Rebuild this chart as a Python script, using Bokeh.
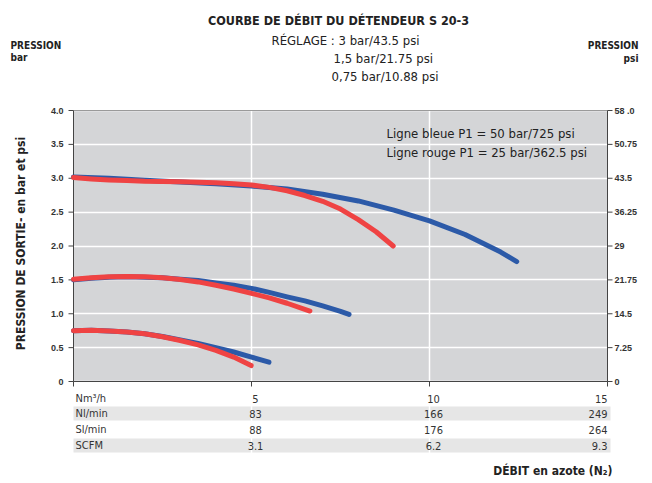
import math
from bokeh.plotting import figure
from bokeh.models import Range1d, FixedTicker
from bokeh.core.properties import value
from bokeh.embed import file_html
from bokeh.resources import INLINE

# ---------------- data ----------------
blue_3_x = [0, 1, 2, 3, 4, 5, 6, 7, 8, 9, 10, 11, 12, 12.45]
blue_3_y = [3.02, 3.00, 2.97, 2.945, 2.92, 2.885, 2.84, 2.765, 2.665, 2.53, 2.37, 2.17, 1.91, 1.77]
red_3_x = [0, 0.5, 1, 1.5, 2, 3, 4, 4.5, 5, 5.5, 6, 6.5, 7, 7.5, 8, 8.5, 8.98]
red_3_y = [3.01, 2.99, 2.975, 2.965, 2.955, 2.95, 2.935, 2.92, 2.90, 2.865, 2.815, 2.745, 2.66,
           2.545, 2.39, 2.21, 2.0]

blue_15_x = [0, 0.5, 1, 1.5, 2, 2.5, 3, 3.5, 4, 4.5, 5, 5.5, 6, 6.5, 7, 7.5, 7.74]
blue_15_y = [1.50, 1.525, 1.54, 1.545, 1.54, 1.53, 1.51, 1.49, 1.455, 1.42, 1.375, 1.315, 1.25,
             1.19, 1.115, 1.035, 0.99]
red_15_x = [0, 0.5, 1, 1.5, 2, 2.5, 3, 3.5, 4, 4.5, 5, 5.5, 6, 6.64]
red_15_y = [1.51, 1.53, 1.545, 1.55, 1.545, 1.53, 1.505, 1.47, 1.42, 1.365, 1.30, 1.235, 1.155, 1.04]

blue_075_x = [0, 0.5, 1, 1.5, 2, 2.5, 3, 3.5, 4, 4.5, 5, 5.49]
blue_075_y = [0.75, 0.755, 0.745, 0.73, 0.705, 0.665, 0.615, 0.56, 0.50, 0.435, 0.36, 0.285]
red_075_x = [0, 0.5, 1, 1.5, 2, 2.5, 3, 3.5, 4, 4.5, 4.99]
red_075_y = [0.75, 0.755, 0.745, 0.73, 0.705, 0.66, 0.605, 0.54, 0.46, 0.36, 0.235]

bar_ticks = [0, 0.5, 1, 1.5, 2, 2.5, 3, 3.5, 4]
bar_labels = ["0", "0.5", "1.0", "1.5", "2.0", "2.5", "3.0", "3.5", "4.0"]
psi_labels = ["0", "7.25", "14.5", "21.75", "29", "36.25", "43.5", "50.75", "58 .0"]
x_ticks = [0, 5, 10, 15]
x_grid = [5, 10]
x_min, x_max = 0, 15
y_min, y_max = 0, 4

row_names = ["Nm\u00b3/h", "Nl/min", "Sl/min", "SCFM"]
row_values = [["5", "10", "15"],
              ["83", "166", "249"],
              ["88", "176", "264"],
              ["3.1", "6.2", "9.3"]]
col_x = [5, 10, 15]

title = "COURBE DE D\u00c9BIT DU D\u00c9TENDEUR S 20-3"
setting_lines = ["R\u00c9GLAGE : 3 bar/43.5 psi", "1,5 bar/21.75 psi", "0,75 bar/10.88 psi"]
legend_lines = ["Ligne bleue P1 = 50 bar/725 psi", "Ligne rouge P1 = 25 bar/362.5 psi"]
y_title = "PRESSION DE SORTIE- en bar et psi"
x_title = "D\u00c9BIT en azote (N\u2082)"

NARROW = "'DejaVu Sans Condensed', Lato"
ARIAL = "Liberation Sans"
BLUE = "#2c5aa8"
RED = "#ef4343"
TXT = "#222222"
AX = "#444444"

# layout helpers: canvas pixel -> data units (plot area spans 73..607 x 110..381 px)
L, R, T, B = 73, 607, 110, 381
XPX = (R - L) / (x_max - x_min)
YPX = (B - T) / (y_max - y_min)


def dx(px):
    return x_min + (px - L) / XPX


def dy(py):
    return y_min + (B - py) / YPX


W, H = 652, 483
p = figure(width=W, height=H, x_range=Range1d(dx(0), dx(W)), y_range=Range1d(dy(H), dy(0)),
           output_backend="svg", toolbar_location=None,
           min_border_left=0, min_border_right=0, min_border_top=0, min_border_bottom=0,
           background_fill_color="white", outline_line_color=None)
p.axis.visible = False

# plot area background
p.quad(left=[x_min], right=[x_max], bottom=[y_min], top=[y_max], fill_color="#d4d5d7",
       line_color=None, level="image")

p.ygrid.ticker = FixedTicker(ticks=bar_ticks)
p.ygrid.bounds = (x_min, x_max)
p.ygrid.grid_line_color = "white"
p.ygrid.grid_line_width = 1.5
p.xgrid.ticker = FixedTicker(ticks=x_grid)
p.xgrid.bounds = (y_min, y_max)
p.xgrid.grid_line_color = "white"
p.xgrid.grid_line_width = 1.5

# frame lines (top grey, axes dark)
p.segment(x0=[x_min], y0=[y_max], x1=[x_max], y1=[y_max], line_color="#9a9a9a", line_width=1)
p.segment(x0=[x_min, x_max, x_min], y0=[y_min, y_min, y_min],
          x1=[x_min, x_max, x_max], y1=[y_max, y_max, y_min], line_color=AX, line_width=1)

# ticks
n = len(bar_ticks)
p.segment(x0=[x_min] * n, y0=bar_ticks, x1=[x_min - 5 / XPX] * n, y1=bar_ticks,
          line_color=AX, line_width=1)
p.segment(x0=[x_max] * n, y0=bar_ticks, x1=[x_max + 5 / XPX] * n, y1=bar_ticks,
          line_color=AX, line_width=1)
p.segment(x0=x_ticks, y0=[y_min] * len(x_ticks), x1=x_ticks, y1=[y_min - 5 / YPX] * len(x_ticks),
          line_color=AX, line_width=1)

# tick labels
p.text(x=[x_min] * n, y=bar_ticks, text=bar_labels, x_offset=-10, text_align="right",
       text_baseline="middle", text_font=value(ARIAL), text_font_style="bold",
       text_font_size="9px", text_color="#333333")
p.text(x=[x_max] * n, y=bar_ticks, text=psi_labels, x_offset=7, text_align="left",
       text_baseline="middle", text_font=value(ARIAL), text_font_style="bold",
       text_font_size="9px", text_color="#333333")

# y axis title
p.text(x=[dx(20)], y=[dy(243)], text=[y_title], angle=math.pi / 2, text_align="center",
       text_baseline="middle", text_font=value(NARROW), text_font_style="bold",
       text_font_size="12px", text_color=TXT)

# curves
for xs, ys, c in [(blue_3_x, blue_3_y, BLUE), (red_3_x, red_3_y, RED),
                  (blue_15_x, blue_15_y, BLUE), (red_15_x, red_15_y, RED),
                  (blue_075_x, blue_075_y, BLUE), (red_075_x, red_075_y, RED)]:
    p.line(xs, ys, line_color=c, line_width=5, line_cap="round", line_join="round")

p.text(x=[dx(386)] * 2, y=[dy(133), dy(152)], text=legend_lines, text_font=value(NARROW),
       text_font_size="13px", text_align="left", text_baseline="middle", text_color=TXT)

# ---------------- header ----------------
p.text(x=[dx(338)], y=[dy(20)], text=[title], text_font=value(NARROW), text_font_style="bold",
       text_font_size="12.5px", text_align="center", text_baseline="middle", text_color=TXT)
p.text(x=[dx(271), dx(333), dx(331)], y=[dy(40), dy(58), dy(76)], text=setting_lines,
       text_font=value(NARROW), text_font_size="13px", text_align="left",
       text_baseline="middle", text_color=TXT)
p.text(x=[dx(10), dx(10)], y=[dy(45), dy(57)], text=["PRESSION", "bar"], text_font=value(NARROW),
       text_font_style="bold", text_font_size="10px", text_align="left",
       text_baseline="middle", text_color=TXT)
p.text(x=[dx(638), dx(638)], y=[dy(45), dy(58)], text=["PRESSION", "psi"], text_font=value(NARROW),
       text_font_style="bold", text_font_size="10px", text_align="right",
       text_baseline="middle", text_color=TXT)

# ---------------- table ----------------
row_y = [dy(398), dy(413), dy(429), dy(445)]
band_rows = [1, 3]
p.quad(left=[x_min] * len(band_rows), right=[dx(610)] * len(band_rows),
       top=[row_y[i] + 7 / YPX for i in band_rows], bottom=[row_y[i] - 7 / YPX for i in band_rows],
       fill_color="#e6e6e6", line_color=None, level="image")
p.text(x=[dx(75)] * len(row_names), y=row_y, text=row_names, text_font=value(NARROW),
       text_font_size="11px", text_align="left", text_baseline="middle", text_color="#333333")
for j, cx in enumerate(col_x):
    txt = [row_values[i][j] for i in range(len(row_names))]
    if j < 2:
        p.text(x=[cx] * len(txt), y=row_y, text=txt, text_font=value(NARROW),
               text_font_size="11px", text_align="center", text_baseline="middle",
               x_offset=4, text_color="#333333")
    else:
        p.text(x=[cx] * len(txt), y=row_y, text=txt, text_font=value(NARROW),
               text_font_size="11px", text_align="right", text_baseline="middle",
               x_offset=0, text_color="#333333")
p.text(x=[dx(612)], y=[dy(470)], text=[x_title], text_font=value(NARROW),
       text_font_style="bold", text_font_size="12px", text_align="right",
       text_baseline="middle", text_color=TXT)

open("out.html", "w").write(file_html(p, INLINE))
